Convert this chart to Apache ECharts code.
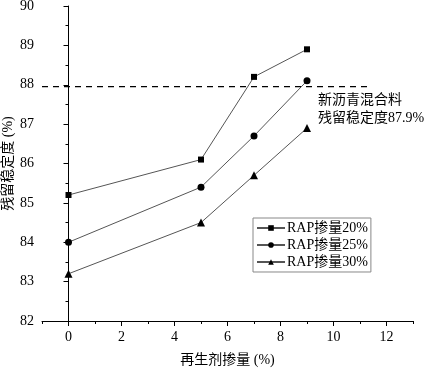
<!DOCTYPE html>
<html><head><meta charset="utf-8">
<script src="https://cdn.jsdelivr.net/npm/echarts@6/dist/echarts.min.js"></script>
<style>html,body{margin:0;padding:0;background:#fff}#c{width:425px;height:368px}</style>
</head><body><div id="c"></div>
<script>
const xValues = [0, 5, 7, 9];
const rap20 = [85.2, 86.1, 88.2, 88.9];
const rap25 = [84.0, 85.4, 86.7, 88.1];
const rap30 = [83.2, 84.5, 85.7, 86.9];
const seriesNames = ['RAP掺量20%', 'RAP掺量25%', 'RAP掺量30%'];
const refX = [-1, 11.4];
const refY = 87.95;
const xMajorTicks = [0, 2, 4, 6, 8, 10, 12];
const xMinorTicks = [-1, 1, 3, 5, 7, 9, 11, 13];
const annotationLines = ['新沥青混合料', '残留稳定度87.9%'];

const FONT = "'Liberation Serif', 'Noto Sans CJK SC', serif";
const pts = arr => xValues.map((x, i) => [x, arr[i]]);
const lineStyle = {color: '#555', width: 1};
const mk = (name, data, symbol, size) => ({
  name, type: 'line', data: pts(data), symbol, symbolSize: size,
  itemStyle: {color: '#000'}, lineStyle, xAxisIndex: 0
});

const chart = echarts.init(document.getElementById('c'));
chart.setOption({
  animation: false,
  grid: {left: 42, right: 12, top: 6, bottom: 47, containLabel: false, outerBoundsMode: 'none'},
  xAxis: [{
    type: 'value', min: -1, max: 13, interval: 1,
    name: '再生剂掺量 (%)', nameLocation: 'middle', nameGap: 32, nameMoveOverlap: false,
    nameTextStyle: {fontFamily: FONT, fontSize: 14, color: '#000'},
    axisLine: {lineStyle: {color: '#000', width: 1}},
    axisTick: {customValues: xMajorTicks, length: 5, lineStyle: {color: '#000'}},
    axisLabel: {customValues: xMajorTicks, fontFamily: FONT, fontSize: 14, color: '#000', margin: 9},
    splitLine: {show: false}
  }, {
    type: 'value', min: -1, max: 13, interval: 1, position: 'bottom',
    axisLine: {show: false},
    axisTick: {customValues: xMinorTicks, length: 3, lineStyle: {color: '#000'}},
    axisLabel: {show: false},
    splitLine: {show: false}
  }],
  yAxis: {
    type: 'value', min: 82, max: 90, interval: 1,
    name: '残留稳定度 (%)', nameLocation: 'middle', nameGap: 27, nameMoveOverlap: false,
    nameTextStyle: {fontFamily: FONT, fontSize: 14, color: '#000'},
    axisLine: {show: true, lineStyle: {color: '#000', width: 1}},
    axisTick: {length: 5, lineStyle: {color: '#000'}},
    minorTick: {show: true, splitNumber: 2, length: 3, lineStyle: {color: '#000'}},
    axisLabel: {fontFamily: FONT, fontSize: 14, color: '#000', margin: 8},
    splitLine: {show: false}
  },
  legend: {
    orient: 'vertical', left: 253, top: 218,
    data: seriesNames,
    itemWidth: 28, itemHeight: 7, itemGap: 3,
    padding: [3, 3, 3, 3],
    borderColor: '#888', borderWidth: 1,
    textStyle: {fontFamily: FONT, fontSize: 14, color: '#000', padding: [0, 0, 0, -3]}
  },
  graphic: [{
    type: 'text', left: 318, top: 91,
    style: {text: annotationLines.join('\n'), font: "14px " + FONT, fill: '#000', lineHeight: 18}
  }],
  series: [
    mk(seriesNames[0], rap20, 'rect', 6),
    mk(seriesNames[1], rap25, 'circle', 7),
    mk(seriesNames[2], rap30, 'triangle', 8),
    {
      type: 'line', data: refX.map(x => [x, refY]), symbol: 'none',
      lineStyle: {color: '#000', width: 1.3, type: [6, 5]}, silent: true
    }
  ]
});
</script></body></html>
